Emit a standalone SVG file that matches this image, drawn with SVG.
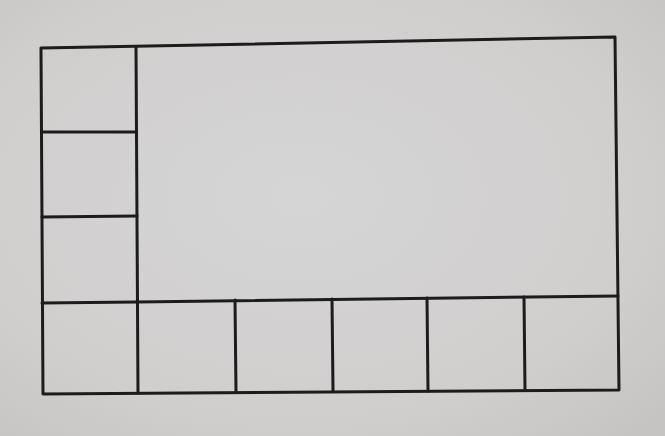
<svg xmlns="http://www.w3.org/2000/svg" width="665" height="436" viewBox="0 0 665 436">
<defs>
<radialGradient id="paper" cx="0.45" cy="0.45" r="0.75">
<stop offset="0" stop-color="#d6d5d6"/>
<stop offset="0.7" stop-color="#d0cecd"/>
<stop offset="1" stop-color="#c6c4c2"/>
</radialGradient>
<style>.ln{fill:none;stroke:#1c1c1c;stroke-width:3;stroke-linecap:round;stroke-linejoin:round}</style>
</defs>
<rect width="665" height="436" fill="url(#paper)"/>
<g id="frame">
<path class="ln" d="M41,48 L615,37 L619,390 L43,394 Z"/>
</g>
<g id="dividers">
<path class="ln" d="M136,47 L138,393"/>
<path class="ln" d="M42,132 L136,132"/>
<path class="ln" d="M42,217 L137,216"/>
<path class="ln" d="M42,303 L137,302 L618,296"/>
<path class="ln" d="M235,300 L236,392"/>
<path class="ln" d="M332,299 L333,391"/>
<path class="ln" d="M427,298 L428,391"/>
<path class="ln" d="M524,297 L525,390"/>
</g>
</svg>
